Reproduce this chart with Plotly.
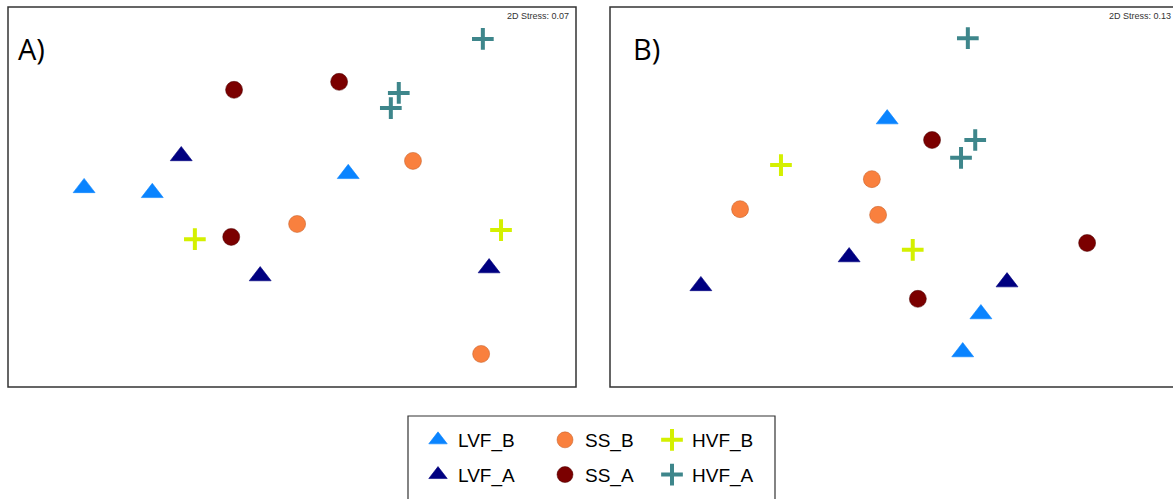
import plotly.graph_objects as go

# NMDS coordinates (arbitrary units)
groups = ["LVF_B", "LVF_A", "SS_B", "SS_A", "HVF_B", "HVF_A"]

a_x = {
    "LVF_B": [13.4, 25.4, 59.9],
    "LVF_A": [30.5, 44.4, 84.7],
    "SS_B": [50.9, 71.3, 83.3],
    "SS_A": [39.8, 58.3, 39.3],
    "HVF_B": [32.9, 86.8],
    "HVF_A": [83.6, 68.8, 67.4],
}
a_y = {
    "LVF_B": [52.4, 51.1, 56.1],
    "LVF_A": [60.8, 29.2, 31.3],
    "SS_B": [42.9, 59.5, 8.7],
    "SS_A": [78.2, 80.3, 39.5],
    "HVF_B": [38.9, 41.3],
    "HVF_A": [91.6, 77.4, 73.4],
}
b_x = {
    "LVF_B": [48.8, 65.3, 62.1],
    "LVF_A": [42.1, 16.0, 69.9],
    "SS_B": [22.9, 46.1, 47.2],
    "SS_A": [56.7, 84.0, 54.2],
    "HVF_B": [30.1, 53.3],
    "HVF_A": [63.0, 64.3, 61.8],
}
b_y = {
    "LVF_B": [70.5, 19.2, 9.2],
    "LVF_A": [34.2, 26.6, 27.6],
    "SS_B": [46.8, 54.7, 45.3],
    "SS_A": [65.0, 37.9, 23.2],
    "HVF_B": [58.4, 36.1],
    "HVF_A": [91.8, 65.0, 60.3],
}
stress = ["2D Stress: 0.07", "2D Stress: 0.13"]
panel_labels = ["A)", "B)"]

styles = {
    "LVF_B": dict(symbol="triangle-up", color="#0A84FF", size=19, line=dict(width=0.6, color="#0A84FF")),
    "LVF_A": dict(symbol="triangle-up", color="#000080", size=19, line=dict(width=0.6, color="#000080")),
    "SS_B": dict(symbol="circle", color="#F9803E", size=17, line=dict(width=0.5, color="#c05a25")),
    "SS_A": dict(symbol="circle", color="#7B0000", size=17, line=dict(width=0.5, color="#4a0000")),
    "HVF_B": dict(symbol="cross-thin", color="#D4F000", size=15.5, line=dict(width=4, color="#D4F000")),
    "HVF_A": dict(symbol="cross-thin", color="#3E868B", size=15.5, line=dict(width=4, color="#3E868B")),
}
legend_of = {"LVF_B": "legend", "LVF_A": "legend", "SS_B": "legend2", "SS_A": "legend2",
             "HVF_B": "legend3", "HVF_A": "legend3"}

fig = go.Figure()
for g in groups:
    st = styles[g]
    mk = dict(symbol=st["symbol"], color=st["color"], size=st["size"], line=st["line"])
    fig.add_trace(go.Scatter(x=a_x[g], y=a_y[g], mode="markers", name=g, legendgroup=g,
                             legend=legend_of[g], marker=mk, xaxis="x", yaxis="y", showlegend=True))
    fig.add_trace(go.Scatter(x=b_x[g], y=b_y[g], mode="markers", name=g, legendgroup=g,
                             legend=legend_of[g], marker=mk, xaxis="x2", yaxis="y2", showlegend=False))

W, H = 1173, 499
yd = [1 - 387 / H, 1 - 7 / H]
ax_common = dict(showgrid=False, zeroline=False, showticklabels=False, showline=False, ticks="")
leg_font = dict(size=19, family="Liberation Sans, Arial, sans-serif", color="black")


def leg(xpx):
    return dict(orientation="v", traceorder="grouped", tracegroupgap=7,
                x=xpx / W, xanchor="left", y=1 - 421 / H, yanchor="top",
                borderwidth=0, bgcolor="rgba(0,0,0,0)", font=leg_font, itemsizing="trace")


fig.update_layout(
    width=W, height=H,
    margin=dict(l=0, r=0, t=0, b=0),
    paper_bgcolor="white", plot_bgcolor="white",
    xaxis=dict(domain=[8 / W, 576 / W], range=[0, 100], **ax_common),
    yaxis=dict(domain=yd, range=[0, 100], **ax_common),
    xaxis2=dict(domain=[610 / W, 1.0], range=[0, 100 * (W - 610) / 568], anchor="y2", **ax_common),
    yaxis2=dict(domain=yd, range=[0, 100], anchor="x2", **ax_common),
    font=dict(family="Liberation Sans, Arial, sans-serif", color="black"),
    legend=leg(418), legend2=leg(545), legend3=leg(652),
    showlegend=True,
)

# legend frame
fig.add_shape(type="rect", xref="paper", yref="paper", x0=408 / W, x1=775 / W,
              y0=1 - 510 / H, y1=1 - 416 / H, line=dict(color="#333333", width=1.2),
              layer="below")

label_shift = [8, 21]
for i, (xr, yr) in enumerate([("x", "y"), ("x2", "y2")]):
    x1 = 1 if i == 0 else 568 / (W - 610)
    fig.add_shape(type="rect", xref=f"{xr} domain", yref=f"{yr} domain",
                  x0=0, x1=x1, y0=0, y1=1, line=dict(color="#333333", width=1.5))
    fig.add_annotation(xref=f"{xr} domain", yref=f"{yr} domain", x=x1, y=1,
                       xanchor="right", yanchor="top", xshift=-5, yshift=-2,
                       text=stress[i], showarrow=False,
                       font=dict(size=9, color="#333333", family="Liberation Sans, Arial, sans-serif"))
    fig.add_annotation(xref=f"{xr} domain", yref=f"{yr} domain", x=0, y=1,
                       xanchor="left", yanchor="top", xshift=label_shift[i], yshift=-20,
                       text=panel_labels[i], showarrow=False,
                       font=dict(size=29, color="black", family="Open Sans, Liberation Sans, sans-serif"))

fig.write_html("out.html")
